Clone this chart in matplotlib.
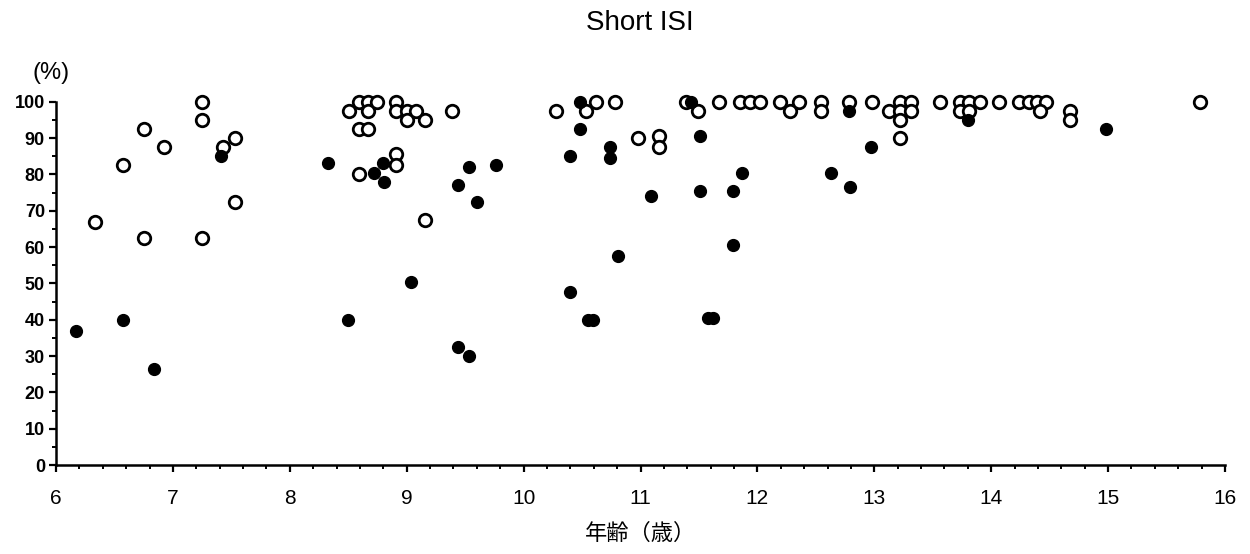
import matplotlib
matplotlib.use("Agg")
import matplotlib.pyplot as plt
from matplotlib.ticker import MultipleLocator

# open circles
open_age = [6.33, 6.57, 6.75, 6.75, 6.92, 7.25, 7.25, 7.25, 7.43, 7.53, 7.53,
            8.51, 8.59, 8.67, 8.67, 8.75, 8.59, 8.67, 8.91, 8.91, 9.00, 9.00,
            9.08, 9.16, 9.39, 8.59, 8.91, 8.91, 9.16,
            10.28, 10.53, 10.62, 10.78,
            10.98, 11.16, 11.16, 11.39, 11.49, 11.67, 11.85, 11.94, 12.02, 12.19,
            12.28, 12.36, 12.54, 12.54, 12.78, 12.98, 13.13, 13.22, 13.31, 13.22,
            13.31, 13.22, 13.22,
            13.56, 13.73, 13.81, 13.90, 13.73, 13.81, 14.07, 14.24, 14.32, 14.39,
            14.47, 14.42, 14.67, 14.67, 15.79]
open_pct = [67, 82.5, 92.5, 62.5, 87.5, 100, 95, 62.5, 87.5, 90, 72.5,
            97.5, 100, 100, 97.5, 100, 92.5, 92.5, 100, 97.5, 97.5, 95,
            97.5, 95, 97.5, 80, 85.5, 82.5, 67.5,
            97.5, 97.5, 100, 100,
            90, 90.5, 87.5, 100, 97.5, 100, 100, 100, 100, 100,
            97.5, 100, 100, 97.5, 100, 100, 97.5, 100, 100, 97.5,
            97.5, 95, 90,
            100, 100, 100, 100, 97.5, 97.5, 100, 100, 100, 100,
            100, 97.5, 97.5, 95, 100]

# filled circles
filled_age = [6.17, 6.57, 6.84, 7.41, 8.33, 8.72, 8.80, 8.81, 9.53, 9.76, 9.44,
              9.60, 9.04, 8.50, 9.44, 9.53,
              10.48, 10.48, 10.40, 10.74, 10.74, 10.40, 10.55, 10.59, 10.81,
              11.09, 11.43, 11.51, 11.51, 11.58, 11.62, 11.87, 11.79, 11.79,
              12.63, 12.78, 12.79, 12.97, 13.80, 14.98]
filled_pct = [37, 40, 26.5, 85, 83, 80.5, 83, 78, 82, 82.5, 77,
              72.5, 50.5, 40, 32.5, 30,
              100, 92.5, 85, 87.5, 84.5, 47.5, 40, 40, 57.5,
              74, 100, 90.5, 75.5, 40.5, 40.5, 80.5, 75.5, 60.5,
              80.5, 97.5, 76.5, 87.5, 95, 92.5]

x_ticks = list(range(6, 17))
y_ticks = list(range(0, 101, 10))

plt.rcParams["font.family"] = ["Liberation Sans", "DejaVu Sans"]

fig = plt.figure(figsize=(12.5, 5.54), dpi=100)
ax = fig.add_axes([0.0448, 0.1606, 0.9352, 0.6558])

ax.plot(open_age, open_pct, linestyle="none", marker="o", markersize=9,
        markerfacecolor="white", markeredgecolor="black", markeredgewidth=2.0,
        clip_on=False, zorder=3)
ax.plot(filled_age, filled_pct, linestyle="none", marker="o", markersize=8.5,
        markerfacecolor="black", markeredgecolor="black", markeredgewidth=1.0,
        clip_on=False, zorder=4)

ax.set_xlim(6, 16)
ax.set_ylim(0, 100)
ax.set_xticks(x_ticks)
ax.set_yticks(y_ticks)
ax.xaxis.set_minor_locator(MultipleLocator(0.2))
ax.yaxis.set_minor_locator(MultipleLocator(5))

for side in ("top", "right"):
    ax.spines[side].set_visible(False)
for side in ("left", "bottom"):
    ax.spines[side].set_linewidth(1.8)

ax.tick_params(axis="both", which="major", direction="out", length=5, width=1.6)
ax.tick_params(axis="both", which="minor", direction="out", length=3, width=1.4)
ax.tick_params(axis="x", which="major", labelsize=15, pad=12)
ax.tick_params(axis="y", which="major", labelsize=13, pad=3)
for lbl in ax.get_yticklabels():
    lbl.set_fontweight("bold")

fig.text(0.512, 0.958, "Short ISI", fontsize=20, ha="center", va="center")
ax.text(-0.004, 1.08, "(%)", transform=ax.transAxes, fontsize=17,
        ha="center", va="center")
ax.set_xlabel("年齢（歳）", fontsize=16, labelpad=10,
              family=["Noto Sans CJK JP", "DejaVu Sans"])

fig.savefig("out.png", dpi=100)
